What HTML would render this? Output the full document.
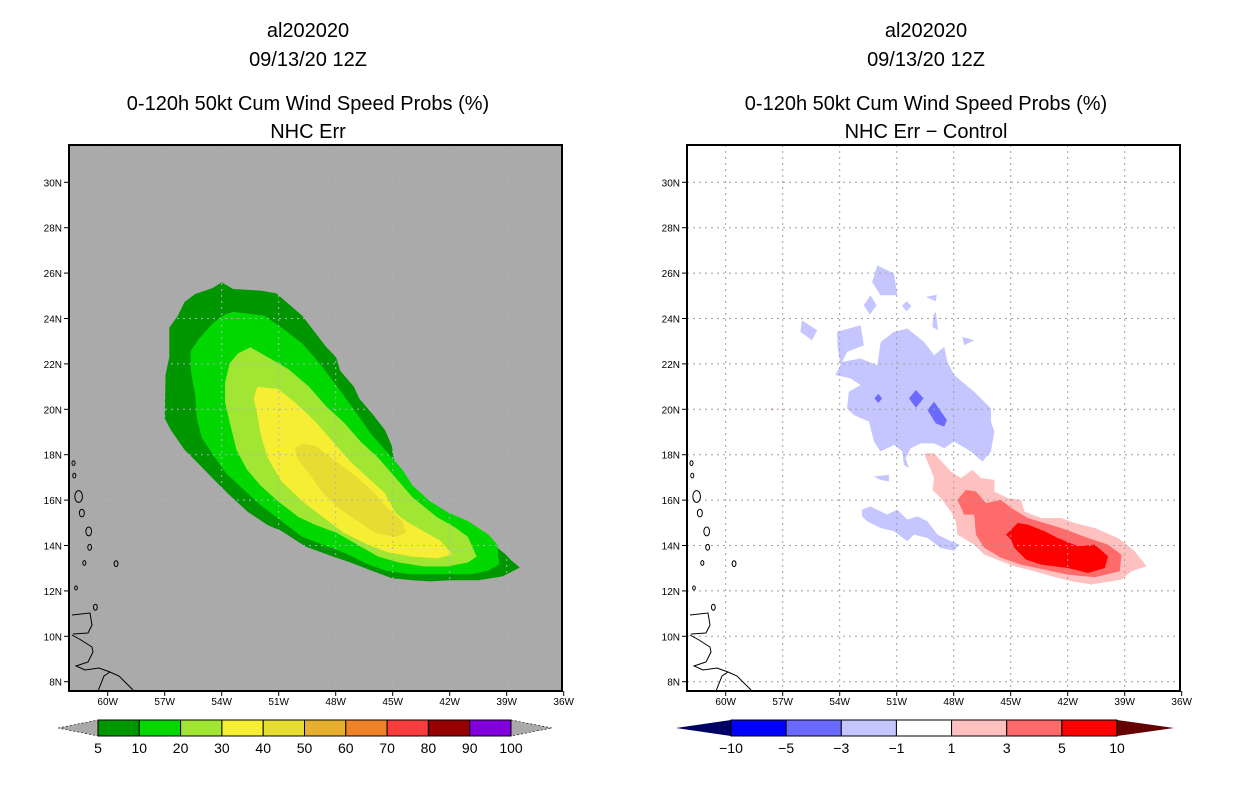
<!DOCTYPE html>
<html><head><meta charset="utf-8"><style>
html,body{margin:0;padding:0;background:#fff;}
svg{display:block;font-family:"Liberation Sans",sans-serif;}
</style></head><body>
<svg id="chart" width="1236" height="800" viewBox="0 0 1236 800">
<g id="titles" font-size="20" text-anchor="middle" fill="#000">
<text x="308" y="37">al202020</text>
<text x="308" y="66">09/13/20 12Z</text>
<text x="308" y="110">0-120h 50kt Cum Wind Speed Probs (%)</text>
<text x="308" y="138">NHC Err</text>
<text x="926" y="37">al202020</text>
<text x="926" y="66">09/13/20 12Z</text>
<text x="926" y="110">0-120h 50kt Cum Wind Speed Probs (%)</text>
<text x="926" y="138">NHC Err − Control</text>
</g>
<g id="left"></g>
<g id="right"></g>
<g id="cbars"></g>
</svg>
<script>
// ---- data ----
const lonTicks = [-60,-57,-54,-51,-48,-45,-42,-39,-36];
const latTicks = [8,10,12,14,16,18,20,22,24,26,28,30];
const probLevels = [5,10,20,30,40,50,60,70,80,90,100];
const probColors = ["#009600","#00d800","#a0e632","#f5ee32","#e6dc32","#e6af2d","#f08228","#fa3c3c","#960000","#8200dc"];
const diffLevels = [-10,-5,-3,-1,1,3,5,10];
const diffColors = ["#0000ff","#6a6aff","#c5c5ff","#ffffff","#ffc0c0","#ff6a6a","#ff0000"];
const prob5 = [[-54,25.6],[-53.4,25.3],[-51.95,25.23],[-51.13,25.11],[-49.76,24.12],[-48.49,22.73],[-47.98,22.3],[-47.76,21.69],[-47.04,20.99],[-46.76,20.47],[-46.04,19.77],[-45.4,19.08],[-45.04,18.38],[-44.85,17.34],[-44.04,16.64],[-43.04,15.77],[-42.04,14.99],[-41.31,14.82],[-39.95,14.21],[-39.04,13.6],[-38.76,13.34],[-38.31,13.03],[-39.22,12.64],[-40.49,12.47],[-41.95,12.47],[-43.04,12.42],[-43.95,12.47],[-45.04,12.56],[-46.13,12.9],[-47.22,13.25],[-48.13,13.51],[-49.58,13.95],[-50.85,14.64],[-51.58,14.9],[-52.67,15.51],[-53.58,16.21],[-54.31,16.82],[-55.22,17.6],[-55.95,18.21],[-56.67,19.08],[-57,19.6],[-56.96,21.51],[-56.76,22.3],[-56.76,23.6],[-56.31,24.12],[-55.95,24.73],[-55.4,25.08],[-54.49,25.34]];
const prob10 = [[-53.4,24.3],[-51.76,24.12],[-50.85,23.6],[-49.76,22.9],[-48.85,22.03],[-47.76,20.82],[-46.85,19.77],[-46.13,18.9],[-45.4,18.21],[-44.49,17.34],[-43.95,16.64],[-43.04,15.95],[-42.04,15.43],[-41.04,15.08],[-39.95,14.47],[-39.49,14.03],[-39.4,13.17],[-39.95,12.9],[-40.85,12.73],[-41.95,12.73],[-43.04,12.73],[-44.13,12.73],[-45.4,12.9],[-46.31,13.17],[-47.58,13.69],[-48.67,14.03],[-49.76,14.38],[-50.85,15.08],[-51.95,15.77],[-52.85,16.47],[-53.76,17.17],[-54.49,18.03],[-55.04,18.73],[-55.31,19.6],[-55.4,20.64],[-55.62,21.69],[-55.64,22.56],[-55.22,23.08],[-54.49,23.77],[-53.95,24.12]];
const prob20 = [[-52.49,22.73],[-51.58,22.3],[-50.49,21.77],[-49.4,20.99],[-48.49,20.12],[-47.58,19.43],[-46.67,18.56],[-45.76,17.86],[-44.85,16.99],[-43.95,16.12],[-42.67,15.25],[-41.76,14.82],[-41.04,14.38],[-40.58,13.51],[-41.04,13.25],[-42.13,13.08],[-43.4,13.08],[-44.67,13.25],[-45.76,13.51],[-46.85,14.03],[-47.95,14.56],[-49.04,14.9],[-49.95,15.25],[-51.04,15.95],[-51.95,16.64],[-52.67,17.34],[-53.22,18.21],[-53.58,19.43],[-53.82,20.3],[-53.82,21.17],[-53.58,22.03],[-53.13,22.47]];
const prob30 = [[-52.13,20.99],[-51.04,20.9],[-50.13,20.3],[-49.04,19.43],[-48.13,18.56],[-47.22,17.69],[-46.31,16.99],[-45.4,16.3],[-44.85,15.43],[-44.31,15.08],[-43.4,14.64],[-42.49,14.21],[-41.85,13.6],[-42.67,13.43],[-43.95,13.51],[-45.22,13.69],[-46.31,14.03],[-47.58,14.56],[-48.67,15.25],[-49.76,15.95],[-50.85,16.82],[-51.58,17.86],[-51.95,18.9],[-52.13,19.77],[-52.31,20.47]];
const prob40 = [[-49.76,18.47],[-49.04,18.38],[-47.95,17.69],[-46.85,16.99],[-45.95,16.3],[-45.22,15.6],[-44.49,15.08],[-44.31,14.56],[-44.85,14.38],[-45.95,14.56],[-46.85,15.08],[-47.76,15.6],[-48.67,16.3],[-49.4,17.17],[-50.04,17.86],[-50.13,18.3]];
const diffNeg1 = [
 [[-54.14,23.41],[-52.9,23.7],[-52.73,22.82],[-53.61,22.53],[-53.87,22.09],[-52.9,22.24],[-52.02,21.94],[-51.84,22.97],[-51.14,23.41],[-50.44,23.56],[-49.56,22.97],[-49.03,22.38],[-48.5,22.75],[-48.33,22.09],[-47.98,21.51],[-46.92,20.77],[-46.04,20.04],[-46.04,19.46],[-45.86,19.02],[-46.04,18.14],[-46.48,17.7],[-47.1,18.14],[-47.98,18.58],[-48.5,18.28],[-49.03,18.5],[-49.74,18.5],[-50.26,18.28],[-50.53,17.84],[-50.35,17.41],[-50.62,17.55],[-50.7,18.14],[-51.14,18.43],[-51.85,18.14],[-52.2,18.58],[-52.46,19.46],[-53.26,19.75],[-53.61,20.04],[-53.52,20.77],[-52.9,21.07],[-53.43,21.36],[-54.23,21.51],[-53.96,21.94],[-54.1,22.68]],
 [[-52.02,26.34],[-51.14,25.98],[-50.97,25.02],[-51.85,25.02],[-52.29,25.61]],
 [[-52.38,25.02],[-52.06,24.58],[-52.41,24.17],[-52.73,24.58]],
 [[-55.99,23.92],[-55.19,23.48],[-55.46,23.04],[-56.07,23.41]],
 [[-50.48,24.76],[-50.23,24.55],[-50.48,24.32],[-50.72,24.55]],
 [[-49.47,24.95],[-48.89,25.05],[-48.94,24.76]],
 [[-48.94,24.29],[-48.82,23.48],[-49.12,23.63],[-49.07,24.15]],
 [[-47.54,23.19],[-46.92,23.04],[-47.45,22.82]],
 [[-52.82,15.58],[-52.38,15.72],[-51.5,15.36],[-50.97,15.58],[-50.44,15.14],[-49.91,15.28],[-49.38,15.06],[-48.85,14.48],[-48.15,14.19],[-47.71,14.04],[-47.98,13.77],[-48.68,13.89],[-49.38,14.33],[-50.09,14.48],[-50.44,14.19],[-51.14,14.63],[-51.85,14.77],[-52.55,15.06],[-52.82,15.28]],
 [[-52.2,17.04],[-51.41,17.11],[-51.41,16.82],[-51.85,16.89]]
];
const diffNeg3 = [
 [[-50.35,20.48],[-49.99,20.85],[-49.59,20.48],[-49.99,20.07]],
 [[-49.38,19.97],[-49.03,20.33],[-48.36,19.53],[-48.5,19.24],[-48.94,19.38]],
 [[-51.97,20.68],[-51.77,20.48],[-51.97,20.28],[-52.17,20.48]]
];
const diffPos1 = [
 [[-49.56,18.06],[-49.03,18.06],[-48.15,17.26],[-47.62,16.97],[-47.01,17.33],[-46.57,16.97],[-45.86,16.89],[-45.86,16.38],[-45.16,16.09],[-44.45,16.01],[-44.28,15.5],[-43.4,15.21],[-42.34,15.21],[-41.64,14.99],[-40.58,14.77],[-39.35,14.33],[-38.47,13.75],[-37.85,13.09],[-38.64,12.87],[-39.17,12.5],[-40.76,12.28],[-41.81,12.43],[-42.87,12.65],[-43.75,12.87],[-44.81,13.09],[-45.51,13.31],[-46.39,13.6],[-46.92,14.04],[-47.8,14.48],[-47.89,15.06],[-48.15,15.5],[-48.68,16.09],[-49.12,16.45],[-49.03,16.97]],
 [[-57.55,20.07],[-57.45,20.0],[-57.55,19.93],[-57.65,20.0]]
];
const diffPos3 = [[[-47.36,16.45],[-46.83,16.38],[-46.3,15.87],[-45.51,16.01],[-44.98,15.65],[-44.1,15.21],[-42.34,14.77],[-40.93,14.33],[-39.88,14.04],[-39.17,13.6],[-39.26,12.87],[-40.58,12.6],[-41.99,12.72],[-43.22,12.94],[-44.45,13.16],[-45.51,13.46],[-46.39,13.9],[-46.83,14.48],[-46.92,15.36],[-47.45,15.36],[-47.8,16.01]]];
const diffPos5 = [[[-45.25,14.48],[-44.63,14.99],[-44.1,14.92],[-43.22,14.63],[-42.52,14.33],[-41.46,13.97],[-40.58,14.04],[-39.88,13.53],[-40.05,13.01],[-40.93,12.79],[-41.99,13.01],[-43.4,13.16],[-44.19,13.38],[-44.81,13.9],[-44.98,14.26]]];
const islands = [[-61.8,17.63,0.08],[-61.76,17.08,0.08],[-61.53,16.16,0.2],[-61.36,15.43,0.13],[-61.0,14.62,0.15],[-60.95,13.92,0.1],[-61.23,13.23,0.08],[-59.56,13.2,0.1],[-61.67,12.13,0.07],[-60.65,11.28,0.1]];

const NS = "http://www.w3.org/2000/svg";
const FL=69, FR=562, FT=145, FB=691;
function xs(lon){ return 107.7 + (lon + 60) * 19.0; }
function ys(lat){ return 681.7 - (lat - 8) * 22.7; }
function mk(tag, attrs, parent){ const e=document.createElementNS(NS,tag); for(const k in attrs) e.setAttribute(k,attrs[k]); parent.appendChild(e); return e; }
function ptsStr(poly, dx){ return poly.map(p => (xs(p[0])+dx).toFixed(1)+","+ys(p[1]).toFixed(1)).join(" "); }

function panel(g, dx, bg, gridColor, layers, prefix){
  const clipId = "clip"+prefix;
  const cp = mk("clipPath",{id:clipId}, g);
  mk("rect",{x:FL+dx,y:FT,width:FR-FL,height:FB-FT}, cp);
  const bgr = mk("rect",{x:FL+dx,y:FT,width:FR-FL,height:FB-FT,fill:bg}, g);
  
  
  const inner = mk("g",{"clip-path":"url(#"+clipId+")"}, g);
  layers.forEach(L => {
    L.polys.forEach((poly,i) => {
      const p = mk("polygon",{points:ptsStr(poly,dx),fill:L.color}, inner);
      
      
    });
  });
  lonTicks.forEach(lon => {
    const l = mk("line",{x1:xs(lon)+dx,x2:xs(lon)+dx,y1:FT,y2:FB,stroke:gridColor,"stroke-width":1,"stroke-dasharray":"2,4"}, inner);
    
    
  });
  latTicks.forEach(lat => {
    const l = mk("line",{x1:FL+dx,x2:FR+dx,y1:ys(lat),y2:ys(lat),stroke:gridColor,"stroke-width":1,"stroke-dasharray":"2,4"}, inner);
    
    
  });
  const coast = mk("g",{fill:"none",stroke:"#000","stroke-width":1}, inner);
  
  
  islands.forEach(is => {
    mk("ellipse",{cx:xs(is[0])+dx,cy:ys(is[1]),rx:is[2]*19,ry:is[2]*22.7*1.3}, coast);
  });
  const sa = [[72,615],[90,613],[92,625],[88,633],[73,634]];
  mk("polyline",{points:sa.map(p=>(p[0]+dx)+","+p[1]).join(" ")}, coast);
  const sa2 = [[72,635],[81,640],[92,647],[93,652],[88,662],[76,666],[85,670],[99,668],[110,672],[119,676],[133,690]];
  mk("polyline",{points:sa2.map(p=>(p[0]+dx)+","+p[1]).join(" ")}, coast);
  mk("polyline",{points:[[110,672],[104,676],[98,691]].map(p=>(p[0]+dx)+","+p[1]).join(" ")}, coast);
  const fr = mk("rect",{x:FL+dx,y:FT,width:FR-FL,height:FB-FT,fill:"none",stroke:"#000","stroke-width":2}, g);
  
  
  lonTicks.forEach(lon => {
    const x = xs(lon)+dx;
    mk("line",{x1:x,x2:x,y1:FB,y2:FB+5,stroke:"#000"}, g);
    const t = mk("text",{x:x,y:FB+14,"font-size":10,"text-anchor":"middle"}, g);
    t.textContent = Math.abs(lon)+"W";
    
    
  });
  latTicks.forEach(lat => {
    const y = ys(lat);
    mk("line",{x1:FL+dx-5,x2:FL+dx,y1:y,y2:y,stroke:"#000"}, g);
    const t = mk("text",{x:FL+dx-7,y:y+4,"font-size":10,"text-anchor":"end"}, g);
    t.textContent = lat+"N";
    
    
  });
}

panel(document.getElementById("left"), 0, "#aaaaaa", "#b0b0c8", [
  {name:"5", color:probColors[0], polys:[prob5]},
  {name:"10", color:probColors[1], polys:[prob10]},
  {name:"20", color:probColors[2], polys:[prob20]},
  {name:"30", color:probColors[3], polys:[prob30]},
  {name:"40", color:probColors[4], polys:[prob40]}
], "left");

panel(document.getElementById("right"), 618, "#ffffff", "#a0a0a0", [
  {name:"neg1", color:diffColors[2], polys:diffNeg1},
  {name:"neg3", color:diffColors[1], polys:diffNeg3},
  {name:"pos1", color:diffColors[4], polys:diffPos1},
  {name:"pos3", color:diffColors[5], polys:diffPos3},
  {name:"pos5", color:diffColors[6], polys:diffPos5}
], "right");

function colorbar(g, x0, x1, tipL, tipR, colors, labels, lc, rc, prefix){
  const y0=720, y1=736, ym=728;
  const w=(x1-x0)/colors.length;
  const tl = mk("polygon",{points:`${tipL},${ym} ${x0},${y0} ${x0},${y1}`,fill:lc,stroke:lc==="#aaaaaa"?"#000":"none","stroke-dasharray":"2,2","stroke-width":0.6}, g);
  
  
  const tr = mk("polygon",{points:`${tipR},${ym} ${x1},${y0} ${x1},${y1}`,fill:rc,stroke:rc==="#aaaaaa"?"#000":"none","stroke-dasharray":"2,2","stroke-width":0.6}, g);
  
  
  colors.forEach((c,i) => {
    const r = mk("rect",{x:x0+i*w,y:y0,width:w,height:y1-y0,fill:c,stroke:"#000","stroke-width":1}, g);
    
    
  });
  labels.forEach((l,i) => {
    const t = mk("text",{x:x0+i*w,y:753,"font-size":14,"text-anchor":"middle"}, g);
    t.textContent = String(l).replace("-","−");
    
    
  });
}
const cb = document.getElementById("cbars");
colorbar(cb, 98, 511, 58, 552, probColors, probLevels, "#aaaaaa", "#aaaaaa", "left");
colorbar(cb, 731, 1117, 676, 1174, diffColors, diffLevels, "#000064", "#640000", "right");
</script>
</body></html>
